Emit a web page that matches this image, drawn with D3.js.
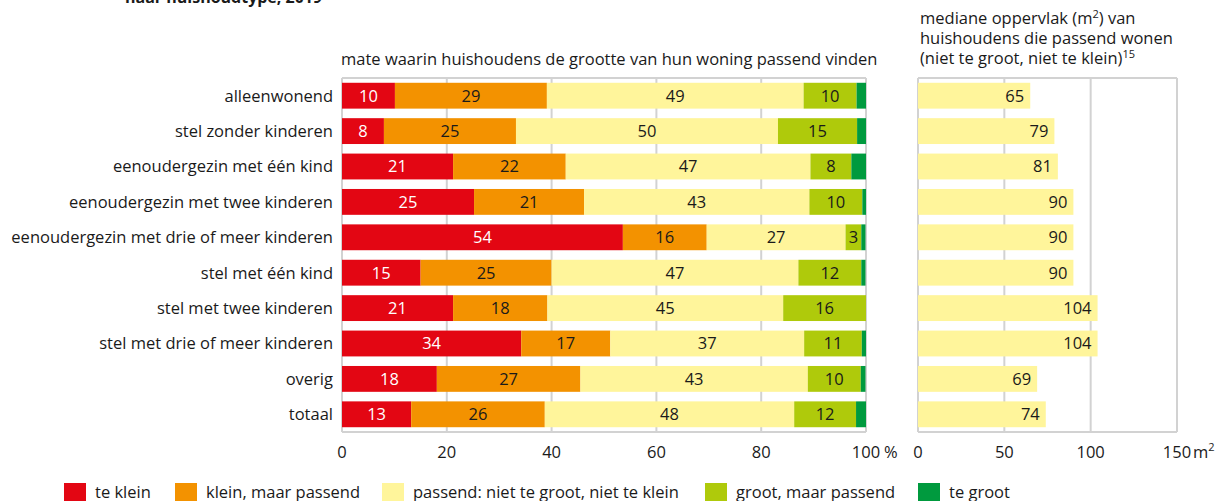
<!DOCTYPE html>
<html>
<head>
<meta charset="utf-8">
<script src="https://cdn.jsdelivr.net/npm/d3@7"></script>
<style>
  body { margin: 0; background: #fff; }
  svg { display: block; font-family: "Open Sans", Lato, sans-serif; }
  text { fill: #1a1a1a; }
</style>
</head>
<body>
<svg id="vis" width="1218" height="501"></svg>
<script>
// household types (rows)
const categories = [
  "alleenwonend", "stel zonder kinderen", "eenoudergezin met één kind",
  "eenoudergezin met twee kinderen", "eenoudergezin met drie of meer kinderen",
  "stel met één kind", "stel met twee kinderen", "stel met drie of meer kinderen",
  "overig", "totaal"
];
const seriesNames = ["te klein", "klein, maar passend", "passend: niet te groot, niet te klein",
  "groot, maar passend", "te groot"];
const teKlein      = [10.1, 8.0, 21.2, 25.2, 53.6, 15.0, 21.2, 34.2, 18.1, 13.2];
const kleinPassend = [29.0, 25.2, 21.5, 21.0, 16.0, 25.0, 18.0, 17.0, 27.4, 25.5];
const passend      = [49.0, 50.0, 46.7, 43.0, 26.5, 47.1, 45.0, 37.0, 43.4, 47.6];
const grootPassend = [10.1, 15.1, 7.8, 10.1, 3.0, 12.0, 15.8, 11.0, 10.1, 11.8];
const teGroot      = [1.8, 1.7, 2.9, 0.8, 0.8, 0.8, 0.2, 0.8, 0.9, 1.9];
const medianArea   = [65, 79, 81, 90, 90, 90, 104, 104, 69, 74];
const pctTicks = [0, 20, 40, 60, 80, 100];
const areaTicks = [0, 50, 100, 150];

const colors = ["#e30613", "#f39200", "#fff59b", "#afca0b", "#009a3e"];
const series = [teKlein, kleinPassend, passend, grootPassend, teGroot];

const svg = d3.select("#vis");
const gridColor = "#d2d2d2";
const fs = "16.5px";

const y = d3.scaleBand().domain(categories).range([78, 432]).paddingInner(0.27).paddingOuter(0.135);
const x = d3.scaleLinear().domain([0, 100]).range([342, 866]);
const x2 = d3.scaleLinear().domain([0, 150]).range([918, 1177]);

// title, cut off at the top edge as in the source
svg.append("text").attr("x", 125).attr("y", 3)
  .style("font-weight", "bold").style("font-size", "16px").text("naar huishoudtype, 2019");

// headers
svg.append("text").attr("x", 341).attr("y", 65).style("font-size", fs)
  .text("mate waarin huishoudens de grootte van hun woning passend vinden");
const hdr = svg.append("text").attr("x", 920).style("font-size", fs);
hdr.append("tspan").attr("y", 24).text("mediane oppervlak (m");
hdr.append("tspan").attr("dy", -6).style("font-size", "11px").text("2");
hdr.append("tspan").attr("dy", 6).text(") van");
hdr.append("tspan").attr("x", 920).attr("y", 44).text("huishoudens die passend wonen");
hdr.append("tspan").attr("x", 920).attr("y", 64).text("(niet te groot, niet te klein)");
hdr.append("tspan").attr("dy", -6).style("font-size", "11px").text("15");

// grid + frames
function frame(scale, ticks) {
  const g = svg.append("g");
  g.selectAll("line").data(ticks).join("line")
    .attr("x1", d => scale(d)).attr("x2", d => scale(d))
    .attr("y1", 78).attr("y2", 432)
    .attr("stroke", gridColor).attr("stroke-width", 2);
  g.append("line").attr("x1", scale.range()[0]).attr("x2", scale.range()[1])
    .attr("y1", 78).attr("y2", 78).attr("stroke", gridColor).attr("stroke-width", 2);
  g.append("line").attr("x1", scale.range()[0]).attr("x2", scale.range()[1])
    .attr("y1", 432).attr("y2", 432).attr("stroke", gridColor).attr("stroke-width", 2);
}
frame(x, pctTicks);
frame(x2, areaTicks);

// stacked bars
const rows = categories.map((c, i) => {
  let acc = 0;
  return series.map((s, k) => {
    const seg = { cat: c, k: k, v: s[i], x0: acc, x1: acc + s[i] };
    acc += s[i];
    return seg;
  });
}).flat();

svg.append("g").selectAll("rect").data(rows).join("rect")
  .attr("x", d => x(d.x0)).attr("width", d => x(Math.min(d.x1, 100)) - x(d.x0))
  .attr("y", d => y(d.cat)).attr("height", y.bandwidth())
  .attr("fill", d => colors[d.k]);

svg.append("g").selectAll("text").data(rows.filter(d => d.k < 4)).join("text")
  .attr("x", d => x((d.x0 + d.x1) / 2)).attr("y", d => y(d.cat) + y.bandwidth() / 2)
  .attr("dy", "0.36em").attr("text-anchor", "middle").style("font-size", fs)
  .style("fill", d => d.k === 0 ? "#fff" : "#1a1a1a")
  .text(d => Math.round(d.v));

// category labels
svg.append("g").selectAll("text").data(categories).join("text")
  .attr("x", 333).attr("y", d => y(d) + y.bandwidth() / 2).attr("dy", "0.36em")
  .attr("text-anchor", "end").style("font-size", fs).text(d => d);

// median area bars
svg.append("g").selectAll("rect").data(medianArea).join("rect")
  .attr("x", x2(0)).attr("width", d => x2(d) - x2(0))
  .attr("y", (d, i) => y(categories[i])).attr("height", y.bandwidth())
  .attr("fill", colors[2]);
svg.append("g").selectAll("text").data(medianArea).join("text")
  .attr("x", d => x2(d) - 6).attr("y", (d, i) => y(categories[i]) + y.bandwidth() / 2)
  .attr("dy", "0.36em").attr("text-anchor", "end").style("font-size", fs)
  .text(d => d);

// axes tick labels
svg.append("g").selectAll("text").data(pctTicks).join("text")
  .attr("x", d => x(d)).attr("y", 458).attr("text-anchor", "middle")
  .style("font-size", fs).text(d => d);
svg.append("text").attr("x", x(100) + 18).attr("y", 458).style("font-size", fs).text("%");
svg.append("g").selectAll("text").data(areaTicks).join("text")
  .attr("x", d => x2(d)).attr("y", 458).attr("text-anchor", "middle")
  .style("font-size", fs).text(d => d);
const m2 = svg.append("text").attr("x", x2(150) + 16).attr("y", 458).style("font-size", fs);
m2.append("tspan").text("m");
m2.append("tspan").attr("dy", -7).style("font-size", "11px").text("2");

// legend
const legendX = [64, 175, 382, 705, 918];
const lg = svg.append("g").selectAll("g").data(seriesNames).join("g")
  .attr("transform", (d, i) => `translate(${legendX[i]},483)`);
lg.append("rect").attr("width", 22).attr("height", 22).attr("fill", (d, i) => colors[i]);
lg.append("text").attr("x", 31).attr("y", 15).style("font-size", fs).text(d => d);
</script>
</body>
</html>
